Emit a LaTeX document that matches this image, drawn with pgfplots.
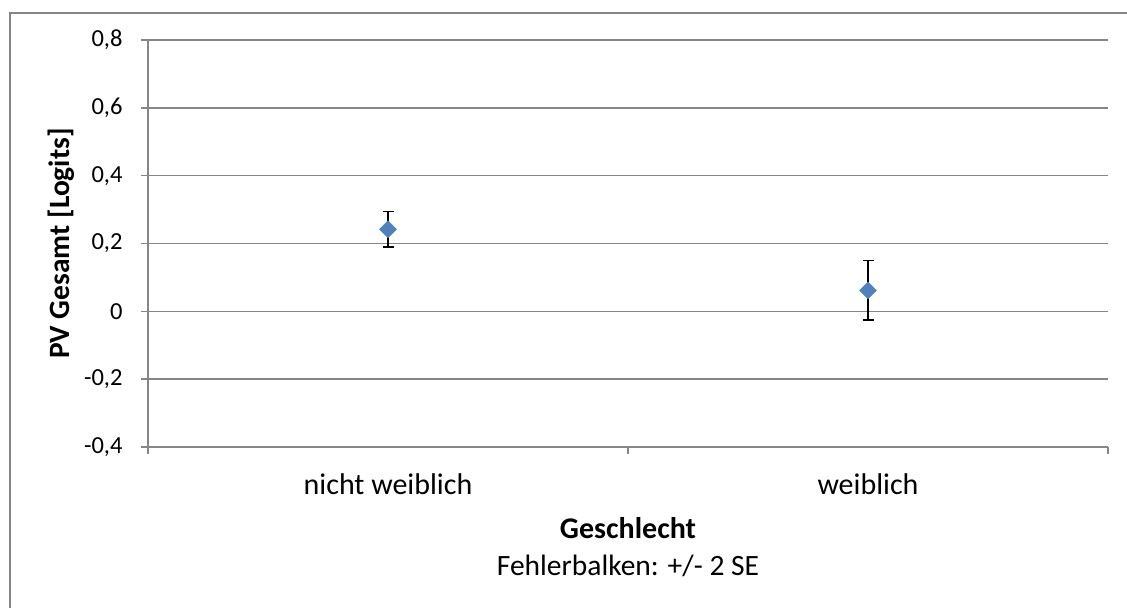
\documentclass[border=0pt]{standalone}
\usepackage{pgfplots}
\pgfplotsset{compat=1.18}
\usepackage{fontspec}
\setmainfont{Carlito}
\definecolor{gridc}{HTML}{868686}
\definecolor{mblue}{HTML}{4F81BD}
\begin{document}
\begin{tikzpicture}[x=1bp,y=1bp]
\path[use as bounding box] (0,0) rectangle (1127,608);
\draw[gridc, line width=2bp] (10,0) -- (10,595) -- (1127,595);
\begin{axis}[
  at={(148bp,161bp)}, anchor=south west,
  scale only axis, width=960bp, height=407bp,
  xmin=0, xmax=2, ymin=-0.4, ymax=0.8,
  axis x line*=bottom, axis y line*=left,
  axis line style={gridc, line width=1.5bp, -},
  tick align=outside,
  major tick length=7bp,
  tick style={gridc, line width=1.5bp},
  xtick={0,1,2}, xticklabels={},
  extra x ticks={0.5,1.5},
  extra x tick labels={nicht weiblich, weiblich},
  extra x tick style={major tick length=0pt,
    xticklabel style={anchor=base, yshift=-48bp, font=\fontsize{30bp}{34bp}\selectfont}},
  ytick={-0.4,-0.2,0,0.2,0.4,0.6,0.8},
  ymajorgrids,
  grid style={gridc, line width=1.5bp},
  /pgf/number format/.cd, use comma, fixed, precision=1, assume math mode=true,
  /pgfplots/.cd,
  yticklabel style={anchor=east, xshift=-15bp, font=\fontsize{24.5bp}{29bp}\selectfont},
  clip=false,
]
\addplot[only marks, mark=square*, mark size=6bp,
  mark options={rotate=45, fill=mblue, draw=mblue},
  error bars/.cd, y dir=both, y explicit,
  error bar style={line width=1.5bp, black},
  error mark options={rotate=90, line width=1.5bp, mark size=5.5bp, black}]
  coordinates {
  (0.5,0.242) +- (0,0.053)
  (1.5,0.062) +- (0,0.088)
  };
\end{axis}
\node[anchor=base, font=\bfseries\fontsize{30bp}{34bp}\selectfont] at (628,69) {Geschlecht};
\node[anchor=base, font=\fontsize{29.5bp}{34bp}\selectfont] at (628,32) {Fehlerbalken: +/- 2 SE};
\node[rotate=90, font=\bfseries\fontsize{29.5bp}{34bp}\selectfont] at (61,364.5) {PV Gesamt [Logits]};
\end{tikzpicture}
\end{document}
